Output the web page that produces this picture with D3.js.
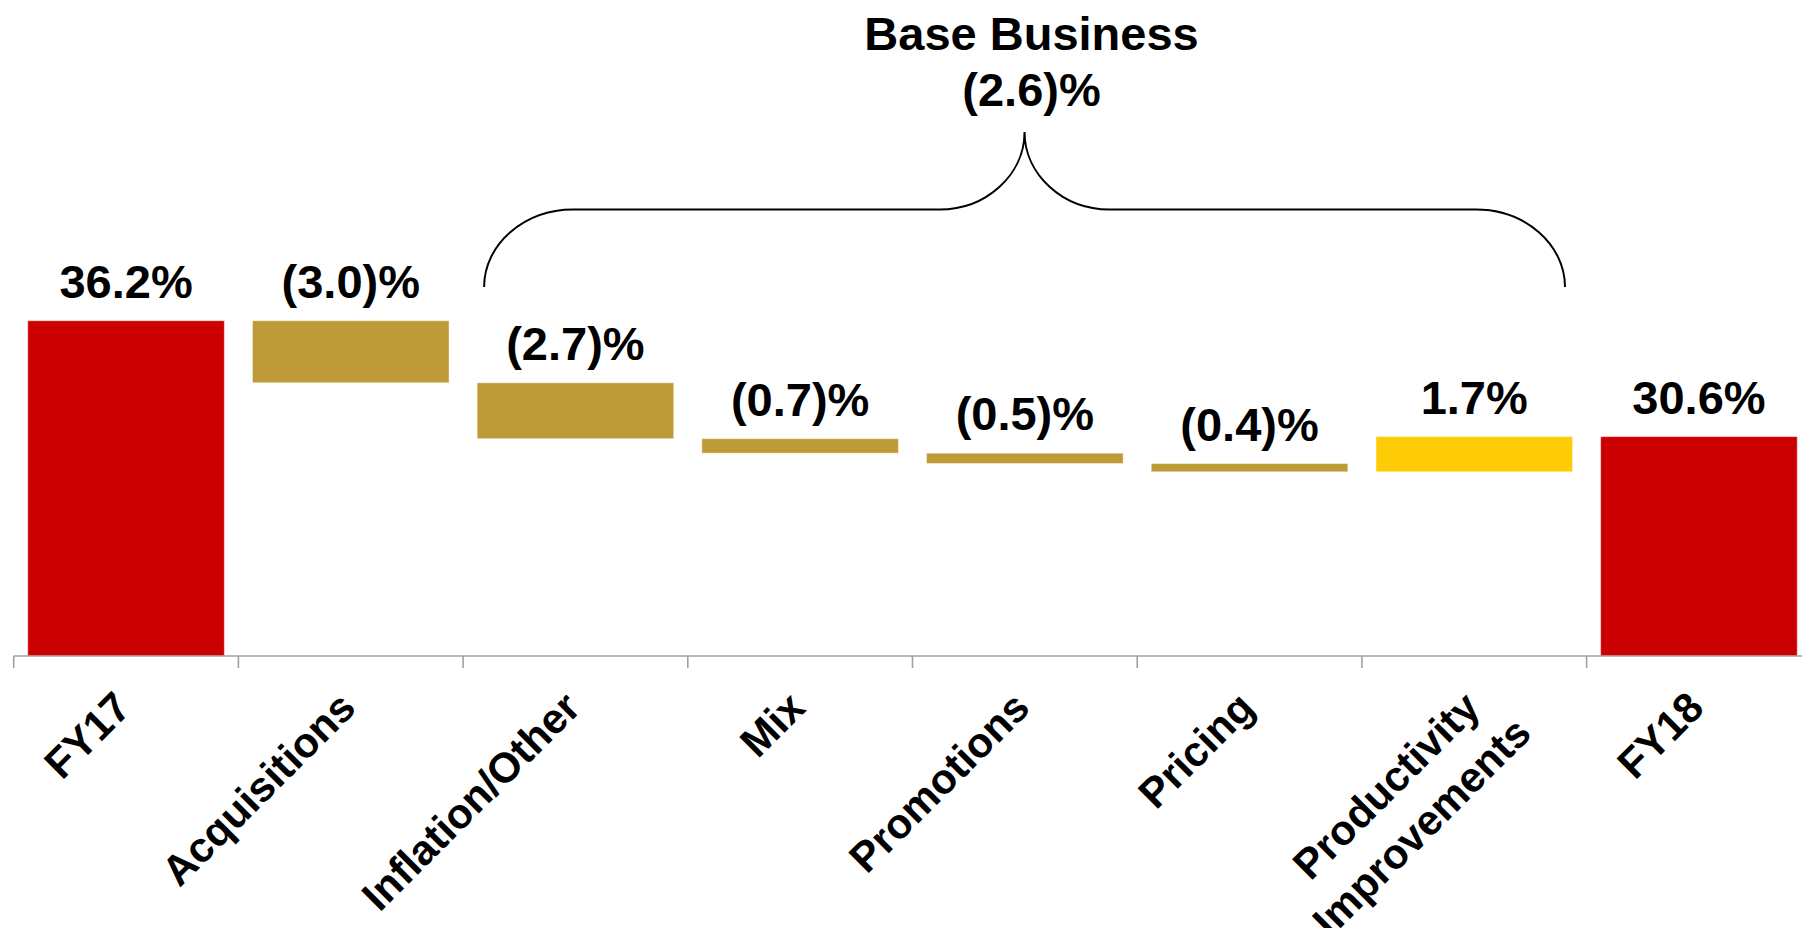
<!DOCTYPE html>
<html>
<head>
<meta charset="utf-8">
<script src="https://cdn.jsdelivr.net/npm/d3@7"></script>
<style>
  html, body { margin: 0; padding: 0; background: #fff; }
  svg { display: block; font-family: "Liberation Sans", Arial, sans-serif; font-weight: bold; }
</style>
</head>
<body>
<svg id="chart" width="1802" height="928"></svg>
<script>
// waterfall data
var categories = ["FY17", "Acquisitions", "Inflation/Other", "Mix", "Promotions", "Pricing", "Productivity\nImprovements", "FY18"]
var values = [36.2, -3.0, -2.7, -0.7, -0.5, -0.4, 1.7, 30.6]
var kinds = ["total", "step", "step", "step", "step", "step", "step", "total"]
var valueLabels = ["36.2%", "(3.0)%", "(2.7)%", "(0.7)%", "(0.5)%", "(0.4)%", "1.7%", "30.6%"]
var braceFrom = "Inflation/Other"
var braceTo = "Productivity\nImprovements"
var braceTitle = ["Base Business", "(2.6)%"]

var colors = { total: "#CC0000", down: "#BF9B38", up: "#FECC05" }

var svg = d3.select("#chart")
var axisY = 656

// build the floating segments
var running = 0
var bars = categories.map(function (c, i) {
  var v = values[i], lo, hi, kind
  if (kinds[i] === "total") {
    lo = 20; hi = v; running = v; kind = "total"
  } else {
    lo = Math.min(running, running + v); hi = Math.max(running, running + v)
    kind = v < 0 ? "down" : "up"
    running += v
  }
  return { cat: c, lo: lo, hi: hi, kind: kind, label: valueLabels[i] }
})

var x = d3.scaleBand().domain(categories).range([13.7, 1811.3]).paddingInner(0.125).paddingOuter(0.0625)
var y = d3.scaleLinear().domain([20, 36.2]).range([axisY, 320.7])
var step = x.step()
var edge = (step - x.bandwidth()) / 2

svg.selectAll("rect.bar")
  .data(bars)
  .enter()
  .append("rect")
  .attr("class", "bar")
  .attr("x", function (d) { return x(d.cat) })
  .attr("width", x.bandwidth())
  .attr("y", function (d) { return y(d.hi) })
  .attr("height", function (d) { return y(d.lo) - y(d.hi) })
  .style("fill", function (d) { return colors[d.kind] })
  .style("stroke", "#fff")
  .style("stroke-opacity", 0.45)
  .style("stroke-width", 1)

svg.selectAll("text.value")
  .data(bars)
  .enter()
  .append("text")
  .attr("class", "value")
  .attr("x", function (d) { return x(d.cat) + x.bandwidth() / 2 })
  .attr("y", function (d) { return y(d.hi) - 23 })
  .attr("text-anchor", "middle")
  .style("font-size", "47px")
  .style("fill", "#000")
  .text(function (d) { return d.label })

// x axis: line plus ticks at band boundaries
var axis = svg.append("g")
axis.append("line")
  .attr("x1", x.range()[0]).attr("x2", x.range()[1])
  .attr("y1", axisY).attr("y2", axisY)
  .style("stroke", "#a0a0a0").style("stroke-width", 1.6)

var bounds = categories.map(function (c) { return x(c) - edge })
bounds.push(x(categories[categories.length - 1]) + x.bandwidth() + edge)
axis.selectAll("line.tick")
  .data(bounds)
  .enter()
  .append("line")
  .attr("class", "tick")
  .attr("x1", function (d) { return d }).attr("x2", function (d) { return d })
  .attr("y1", axisY).attr("y2", axisY + 12)
  .style("stroke", "#a0a0a0").style("stroke-width", 1.6)

// rotated category labels
var labels = svg.selectAll("text.cat")
  .data(categories)
  .enter()
  .append("text")
  .attr("class", "cat")
  .attr("text-anchor", "end")
  .style("font-size", "42px")
  .attr("transform", function (d) {
    var multi = d.indexOf("\n") >= 0
    var cx = x(d) + x.bandwidth() / 2 + (multi ? 8 : 7)
    var cy = axisY + 54
    return "translate(" + cx + "," + cy + ") rotate(-45)"
  })

labels.each(function (d) {
  var parts = d.split("\n")
  var t = d3.select(this)
  parts.forEach(function (p, i) {
    t.append("tspan")
      .attr("x", i === 0 ? 0 : 18)
      .attr("dy", i === 0 ? 0 : 54)
      .text(p)
  })
})

// brace over the base business steps
var bx0 = x(braceFrom) - edge + 21
var bx1 = x(braceTo) + x.bandwidth() + edge - 21.6
var bmid = (bx0 + bx1) / 2
var yBot = 287, yBar = 209.5, yTop = 132
var rx = 89, ry = yBot - yBar, mx = 85, my = yBar - yTop

var p = d3.path()
p.moveTo(bx0, yBot)
p.bezierCurveTo(bx0, yBot - 0.55 * ry, bx0 + rx - 0.55 * rx, yBar, bx0 + rx, yBar)
p.lineTo(bmid - mx, yBar)
p.bezierCurveTo(bmid - mx + 0.55 * mx, yBar, bmid, yTop + 0.55 * my, bmid, yTop)
p.bezierCurveTo(bmid, yTop + 0.55 * my, bmid + mx - 0.55 * mx, yBar, bmid + mx, yBar)
p.lineTo(bx1 - rx, yBar)
p.bezierCurveTo(bx1 - rx + 0.55 * rx, yBar, bx1, yBot - 0.55 * ry, bx1, yBot)

svg.append("path")
  .attr("d", p.toString())
  .style("fill", "none")
  .style("stroke", "#000")
  .style("stroke-width", 2)

svg.selectAll("text.brace")
  .data(braceTitle)
  .enter()
  .append("text")
  .attr("class", "brace")
  .attr("x", bmid + 7)
  .attr("y", function (d, i) { return 49.5 + i * 56 })
  .attr("text-anchor", "middle")
  .style("font-size", "47px")
  .text(function (d) { return d })
</script>
</body>
</html>
